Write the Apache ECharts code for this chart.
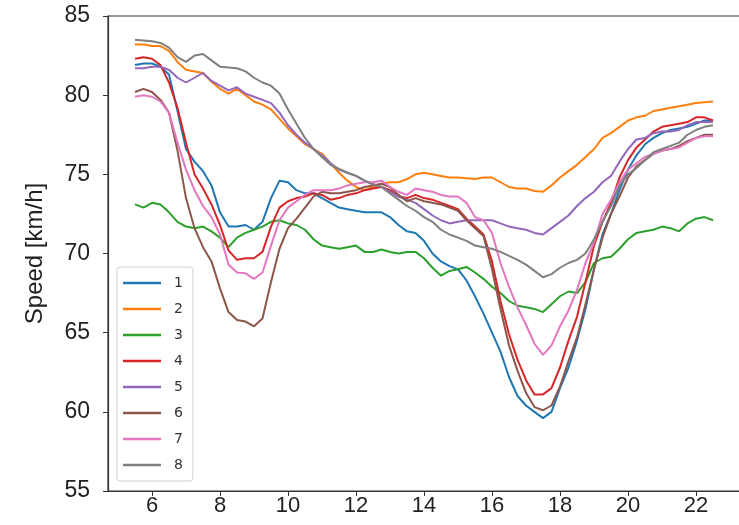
<!DOCTYPE html>
<html>
<head>
<meta charset="utf-8">
<script src="https://cdn.jsdelivr.net/npm/echarts@6/dist/echarts.min.js"></script>
<style>html,body{margin:0;padding:0;background:#fff;overflow:hidden;width:739px;height:525px}#c{width:760px;height:525px}</style>
</head>
<body>
<div id="c"></div>
<script>
const hours = [5.5,5.75,6,6.25,6.5,6.75,7,7.25,7.5,7.75,8,8.25,8.5,8.75,9,9.25,9.5,9.75,10,10.25,10.5,10.75,11,11.25,11.5,11.75,12,12.25,12.5,12.75,13,13.25,13.5,13.75,14,14.25,14.5,14.75,15,15.25,15.5,15.75,16,16.25,16.5,16.75,17,17.25,17.5,17.75,18,18.25,18.5,18.75,19,19.25,19.5,19.75,20,20.25,20.5,20.75,21,21.25,21.5,21.75,22,22.25,22.5];
const seriesNames = ['1','2','3','4','5','6','7','8'];
const s1 = [81.9,82.0,82.0,81.8,81.3,79.0,76.6,75.8,75.2,74.3,72.6,71.7,71.7,71.8,71.5,72.0,73.5,74.6,74.5,74.0,73.8,73.8,73.5,73.2,72.9,72.8,72.7,72.6,72.6,72.6,72.3,71.8,71.4,71.3,70.8,70.0,69.5,69.2,69.0,68.3,67.3,66.2,65.0,63.8,62.2,61.0,60.4,60.0,59.6,60.0,61.5,62.8,64.5,66.5,69.0,71.2,72.5,74.0,75.3,76.2,76.9,77.3,77.6,77.8,77.9,78.0,78.2,78.4,78.4];
const s2 = [83.2,83.2,83.1,83.1,82.8,82.1,81.6,81.5,81.4,80.85,80.4,80.1,80.4,80.0,79.6,79.4,79.1,78.5,77.9,77.4,76.9,76.6,76.3,75.7,75.1,74.6,74.2,74.0,74.2,74.4,74.5,74.5,74.7,75.0,75.1,75.0,74.9,74.8,74.8,74.75,74.7,74.8,74.8,74.5,74.2,74.1,74.1,73.95,73.9,74.3,74.8,75.2,75.6,76.1,76.6,77.3,77.6,78.0,78.4,78.6,78.7,79.0,79.1,79.2,79.3,79.4,79.5,79.55,79.6];
const s3 = [73.1,72.9,73.2,73.1,72.6,72.0,71.7,71.6,71.7,71.4,71.0,70.4,71.0,71.3,71.5,71.7,72.0,72.1,71.9,71.8,71.5,70.9,70.5,70.4,70.3,70.4,70.5,70.1,70.1,70.25,70.1,70.0,70.1,70.1,69.7,69.1,68.6,68.9,69.0,69.15,68.8,68.4,67.9,67.5,67.0,66.7,66.6,66.5,66.3,66.8,67.3,67.6,67.5,68.2,69.4,69.7,69.8,70.3,70.9,71.3,71.4,71.5,71.7,71.6,71.4,71.9,72.2,72.3,72.1];
const s4 = [82.3,82.4,82.3,81.9,80.8,79.2,77.0,75.0,74.1,73.1,71.8,70.2,69.6,69.7,69.7,70.1,71.7,72.9,73.3,73.5,73.6,73.8,73.7,73.4,73.5,73.7,73.8,74.0,74.1,74.2,74.0,73.6,73.5,73.7,73.5,73.4,73.2,73.0,72.8,72.2,71.7,71.2,69.5,67.0,64.9,63.3,62.0,61.1,61.1,61.5,62.8,64.5,66.0,68.2,70.5,72.0,73.2,74.8,75.9,76.7,77.2,77.7,78.0,78.1,78.2,78.3,78.6,78.6,78.4];
const s5 = [81.7,81.7,81.8,81.8,81.6,81.1,80.8,81.1,81.4,80.9,80.6,80.3,80.5,80.1,79.9,79.7,79.5,78.9,78.1,77.5,77.0,76.6,76.2,75.7,75.3,75.1,74.9,74.6,74.4,74.2,73.9,73.6,73.4,73.2,72.8,72.4,72.1,71.9,72.0,72.1,72.1,72.1,72.1,71.9,71.7,71.6,71.5,71.3,71.2,71.6,72.0,72.4,73.0,73.5,73.9,74.5,74.9,75.8,76.6,77.2,77.3,77.6,77.7,77.7,77.8,78.1,78.3,78.3,78.3];
const s6 = [80.2,80.4,80.2,79.7,78.9,76.5,73.5,71.6,70.4,69.5,67.8,66.3,65.8,65.7,65.4,65.9,68.2,70.3,71.6,72.2,72.9,73.6,73.9,73.8,73.8,73.9,74.0,74.2,74.3,74.4,74.2,73.7,73.3,73.5,73.3,73.2,73.1,72.9,72.7,72.1,71.6,71.1,69.0,66.5,64.2,62.6,61.2,60.3,60.1,60.4,61.6,63.2,64.7,66.8,69.0,71.0,72.5,73.6,74.8,75.5,75.9,76.3,76.5,76.6,76.8,77.1,77.3,77.5,77.5];
const s7 = [79.9,80.0,79.9,79.6,78.9,77.0,75.3,74.0,73.0,72.3,71.2,69.3,68.8,68.75,68.4,68.8,70.5,72.1,72.9,73.3,73.7,74.0,74.0,74.0,74.1,74.3,74.4,74.5,74.5,74.6,74.2,73.9,73.7,74.1,74.0,73.9,73.7,73.6,73.6,73.2,72.3,72.1,71.3,69.4,67.9,66.6,65.5,64.3,63.6,64.2,65.4,66.4,67.7,69.4,70.7,72.5,73.4,74.5,75.3,75.7,76.1,76.3,76.5,76.6,76.7,77.0,77.3,77.4,77.4];
const s8 = [83.5,83.45,83.4,83.3,83.0,82.4,82.1,82.5,82.6,82.2,81.8,81.75,81.7,81.5,81.1,80.8,80.6,80.1,79.1,78.2,77.3,76.6,76.1,75.6,75.35,75.1,74.9,74.6,74.35,74.2,73.8,73.4,73.0,72.7,72.3,72.0,71.5,71.2,71.0,70.8,70.5,70.4,70.3,70.1,69.85,69.6,69.3,68.9,68.5,68.7,69.1,69.4,69.6,70.0,70.9,72.0,73.0,74.3,75.0,75.4,75.9,76.4,76.6,76.8,77.0,77.5,77.8,78.0,78.1];
const xTicks = [6,8,10,12,14,16,18,20,22];
const yTicks = [55,60,65,70,75,80,85];
const colors = ['#1f77b4','#ff7f0e','#2ca02c','#d62728','#9467bd','#8c564b','#e377c2','#7f7f7f'];
const allSeries = [s1,s2,s3,s4,s5,s6,s7,s8];

const chart = echarts.init(document.getElementById('c'), null, {renderer:'canvas'});
const X_MIN = 4.706, X_MAX = 23.4;
chart.setOption({
  animation:false,
  backgroundColor:'#fff',
  color: colors,
  grid:{left:108, top:16, width:(X_MAX-X_MIN)*34, height:475, show:true, borderColor:'#333', borderWidth:1.2, backgroundColor:'transparent'},
  legend:{
    orient:'vertical', left:117, top:267,
    data: seriesNames,
    icon:'rect', itemWidth:38, itemHeight:2.5, itemGap:12,
    padding:[9,10,9,6],
    backgroundColor:'rgba(255,255,255,0.8)', borderColor:'#d0d0d0', borderWidth:1, borderRadius:3,
    textStyle:{fontFamily:'DejaVu Sans', fontSize:14, color:'#333', lineHeight:14, padding:[0,0,0,8]}
  },
  xAxis:{
    type:'value', min:X_MIN, max:X_MAX,
    axisLine:{show:true, lineStyle:{color:'#333', width:1.2}},
    axisTick:{show:true, length:5, lineStyle:{color:'#333'}, customValues:xTicks},
    axisLabel:{customValues:xTicks, fontFamily:'Liberation Sans', fontSize:22, color:'#222', margin:4},
    splitLine:{show:false}
  },
  yAxis:{
    type:'value', min:55, max:85, interval:5,
    name:'Speed [km/h]', nameLocation:'middle', nameGap:61,
    nameTextStyle:{fontFamily:'Liberation Sans', fontSize:24, color:'#222'},
    axisLine:{show:true, lineStyle:{color:'#333', width:1.2}},
    axisTick:{show:true, length:5, lineStyle:{color:'#333'}},
    axisLabel:{fontFamily:'Liberation Sans', fontSize:23, color:'#222', margin:18},
    splitLine:{show:false}
  },
  series: allSeries.map((vals,i)=>({
    name: seriesNames[i], type:'line', symbol:'none',
    lineStyle:{width:2, color:colors[i]},
    itemStyle:{color:colors[i]},
    data: hours.map((h,j)=>[h, vals[j]])
  }))
});
</script>
</body>
</html>
